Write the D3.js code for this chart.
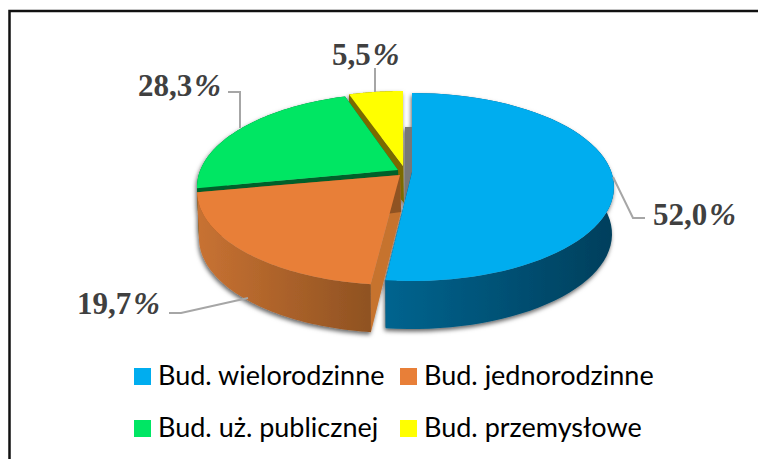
<!DOCTYPE html>
<html><head><meta charset="utf-8">
<script src="https://cdn.jsdelivr.net/npm/d3@7"></script>
<style>html,body{margin:0;background:#fff}svg{display:block}</style>
</head><body><svg id="c" width="759" height="459"></svg>
<script>
// Data
const categories = ["Bud. wielorodzinne","Bud. jednorodzinne","Bud. uż. publicznej","Bud. przemysłowe"];
const dataLabels = ["52,0","19,7","28,3","5,5"];
// Share of the circle each slice visibly occupies in the drawing (printed labels sum to 105,5)
const drawnShares = [52.1, 22.7, 20.9, 4.3];
const colors = ["#00adef","#e87f38","#00e664","#ffff00"];
const wallLeft  = ["#00648f","#c87232","#00602c","#7a6a00"];
const wallRight = ["#003f5c","#8f5222","#00602c","#7a6a00"];

const svg = d3.select("#c");
const defs = svg.append("defs");
const f = defs.append("filter").attr("id","sh").attr("x","-10%").attr("y","-10%").attr("width","120%").attr("height","125%");
f.append("feDropShadow").attr("dx",-1).attr("dy",2.5).attr("stdDeviation",2).attr("flood-color","#000").attr("flood-opacity",.6);
colors.forEach((c,i)=>{
  const g=defs.append("linearGradient").attr("id","w"+i);
  g.append("stop").attr("offset",0).attr("stop-color",wallLeft[i]);
  g.append("stop").attr("offset",1).attr("stop-color",wallRight[i]);
});

// frame
svg.append("path").attr("d","M9.5,459V11H758").attr("fill","none").attr("stroke","#111").attr("stroke-width",2.5);

const pie = d3.pie().sort(null).value(d=>d);
const arcs = pie(drawnShares);

// exploded position of each slice: apex (ax,ay), ellipse centre (cx,cy), radius rx
const layout = [
 {ax:412,ay:172,cx:412,cy:187,rx:202},
 {ax:400,ay:175,cx:397,cy:191,rx:200},
 {ax:398,ay:170,cx:399,cy:187,rx:202},
 {ax:403,ay:166,cx:403,cy:185,rx:202}
];
const ry=94, depth=47, ryB=95;

const topPt=(l,a)=>[l.cx+l.rx*Math.sin(a), l.cy-ry*Math.cos(a)];
const botPt=(l,a)=>[l.cx+(l.rx-2)*Math.sin(a), l.cy+depth-ryB*Math.cos(a)];
const apexBottom = l=>[l.ax+1, l.ay+depth-10];
const line=d3.line();
const sample=(s,e)=>d3.range(0,61).map(i=>s+(e-s)*i/60);

const gShadow=svg.append("g").attr("filter","url(#sh)");
// sliver of shadow visible in the gap behind the blue slice
gShadow.append("path").attr("d",line([[405,127],[413,127],[413,190],[405,212]])+"Z").attr("fill","#777");

[3,2,1,0].forEach(i=>{
  const d=arcs[i], l=layout[i], g=gShadow.append("g");
  const s=d.startAngle, e=d.endAngle, A=[l.ax,l.ay], B=apexBottom(l);
  // cut faces
  g.append("path").attr("d",line([A,B,botPt(l,s),topPt(l,s)])+"Z").attr("fill",i==1?"#c6732f":wallLeft[i]);
  g.append("path").attr("d",line([A,B,botPt(l,e),topPt(l,e)])+"Z").attr("fill",wallRight[i]);
  // outer wall
  const pts=sample(s,e);
  g.append("path").attr("d",line(pts.map(a=>topPt(l,a)).concat(pts.slice().reverse().map(a=>botPt(l,a))))+"Z")
    .attr("fill","url(#w"+i+")");
  // top
  g.append("path").attr("d",line([A].concat(pts.map(a=>topPt(l,a))))+"Z").attr("fill",colors[i]);
});

// leader lines
const leaders=[[[613,177],[633,218],[645,218]],[[248,298],[181,313],[169,313]],[[240,128],[240,92],[228,92]],[[375,92],[375,68]]];
leaders.forEach(p=>svg.append("path").attr("d",line(p)).attr("fill","none").attr("stroke","#a6a6a6").attr("stroke-width",2));

// data labels
const labelPos=[[653,225],[77,314],[138,96],[332,65]];
dataLabels.forEach((t,i)=>{
  const tx=svg.append("text").attr("x",labelPos[i][0]).attr("y",labelPos[i][1])
    .attr("font-family","Liberation Serif").attr("font-weight","bold").attr("font-size",31).attr("fill","#404040");
  tx.append("tspan").text(t);
  tx.append("tspan").attr("dx",2).attr("font-style","italic").attr("font-size",32).text("%");
});

// legend
const legendPos=[[134,368],[400,368],[134,420],[400,420]];
categories.forEach((t,i)=>{
  const [x,y]=legendPos[i];
  svg.append("rect").attr("x",x).attr("y",y).attr("width",17).attr("height",17).attr("fill",colors[i]);
  svg.append("text").attr("x",x+24).attr("y",y+17).text(t).attr("font-family","Lato").attr("font-size",27).attr("fill","#000");
});
</script></body></html>
